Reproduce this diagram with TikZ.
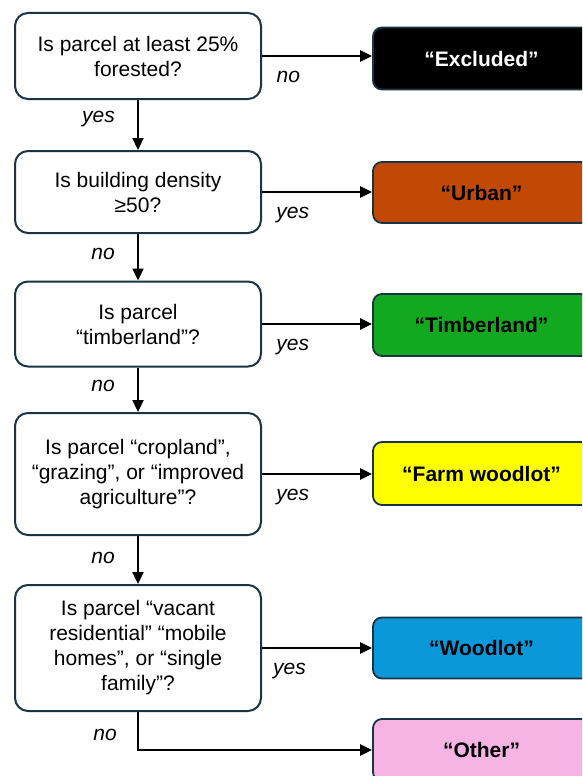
\documentclass[tikz,border=0pt]{standalone}
\usepackage{fontspec}
\setmainfont{Liberation Sans}
\usetikzlibrary{arrows.meta,positioning}
\definecolor{QBorder}{HTML}{1B3444}
\definecolor{UrbanOrange}{HTML}{C24806}
\definecolor{TimberGreen}{HTML}{12A820}
\definecolor{FarmYellow}{HTML}{FFFF00}
\definecolor{WoodBlue}{HTML}{0A98DA}
\definecolor{OtherPink}{HTML}{F5B4E4}

\tikzset{
  question/.style={draw=QBorder, line width=2pt, rounded corners=13pt, fill=white,
    minimum width=246pt, align=center, font=\fontsize{21}{25}\selectfont},
  result/.style={draw=QBorder, line width=1.8pt, rounded corners=9pt,
    minimum width=217pt, minimum height=62pt, font=\fontsize{21}{25}\selectfont\bfseries},
  flow/.style={line width=2.3pt, -{Triangle[length=12pt, width=11pt]}},
  answer/.style={font=\fontsize{21}{25}\selectfont\itshape, inner sep=0pt}
}

\begin{document}
\begin{tikzpicture}[x=1pt, y=-1pt]
\useasboundingbox (0,0) rectangle (582,776);
\clip (0,0) rectangle (582,776);

% Questions (left column)
\node[question, minimum height=86pt] (q1) at (138, 56) {Is parcel at least 25\%\\forested?};
\node[question, minimum height=82pt] (q2) at (138, 192) {Is building density\\≥50?};
\node[question, minimum height=85pt] (q3) at (138, 324) {Is parcel\\“timberland”?};
\node[question, minimum height=122pt] (q4) at (138, 474) {Is parcel “cropland”,\\“grazing”, or “improved\\agriculture”?};
\node[question, minimum height=126pt] (q5) at (138, 648) {Is parcel “vacant\\residential” “mobile\\homes”, or “single\\family”?};

% Classes (right column)
\node[result, fill=black, text=white] (excluded) at (481.5, 58.5) {“Excluded”};
\node[result, fill=UrbanOrange, minimum height=61pt] (urban) at (481.5, 192.5) {“Urban”};
\node[result, fill=TimberGreen] (timber) at (481.5, 325) {“Timberland”};
\node[result, fill=FarmYellow, minimum height=63pt] (farm) at (481.5, 473.5) {“Farm woodlot”};
\node[result, fill=WoodBlue, minimum height=61pt] (woodlot) at (481.5, 648) {“Woodlot”};
\node[result, fill=OtherPink] (other) at (481.5, 750) {“Other”};

% Down the "no"/"yes" chain
\draw[flow] (q1.south) -- (q2.north) node[answer, pos=0.38, left=22pt] (a1) {yes};
\draw[flow] (q2.south) -- (q3.north) node[answer, pos=0.42, left=22pt] (a2) {no};
\draw[flow] (q3.south) -- (q4.north) node[answer, pos=0.42, left=22pt] (a3) {no};
\draw[flow] (q4.south) -- (q5.north) node[answer, pos=0.45, left=22pt] (a4) {no};

% Across to the classes
\draw[flow] (q1.east) -- (q1.east -| excluded.west) node[answer, pos=0.24, below=14pt] (b1) {no};
\draw[flow] (q2.east) -- (q2.east -| urban.west) node[answer, pos=0.28, below=14pt] (b2) {yes};
\draw[flow] (q3.east) -- (q3.east -| timber.west) node[answer, pos=0.28, below=14pt] (b3) {yes};
\draw[flow] (q4.east) -- (q4.east -| farm.west) node[answer, pos=0.28, below=14pt] (b4) {yes};
\draw[flow] (q5.east) -- (q5.east -| woodlot.west) node[answer, pos=0.25, below=14pt] (b5) {yes};
\draw[flow] (q5.south) |- (other.west) node[answer, pos=0.3, left=20pt] (b6) {no};
\end{tikzpicture}
\end{document}
